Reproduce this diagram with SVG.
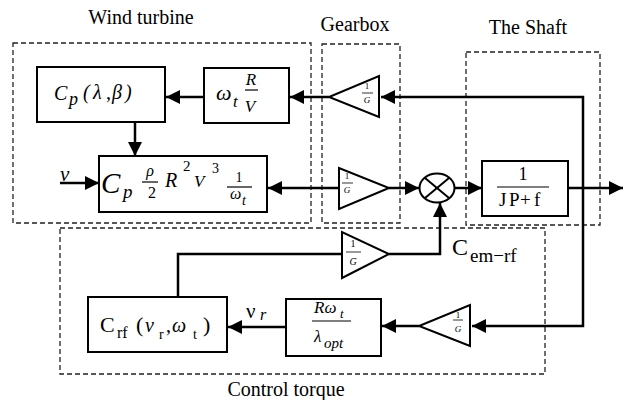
<svg xmlns="http://www.w3.org/2000/svg" width="624" height="400" viewBox="0 0 624 400">
<defs>
<marker id="ah" viewBox="0 0 14 14" refX="14" refY="7" markerWidth="14" markerHeight="14" markerUnits="userSpaceOnUse" orient="auto">
<path d="M0,0 L14,7 L0,14 z" fill="#000"/>
</marker>
</defs>
<rect width="624" height="400" fill="#fff"/>

<g id="groups">
<g fill="none" stroke="#222" stroke-width="1.3" stroke-dasharray="5,3">
<rect x="13" y="43" width="298" height="180"/>
<rect x="322" y="44" width="78" height="179"/>
<rect x="466" y="52" width="134" height="173"/>
<rect x="60" y="228" width="485" height="146"/>
</g>
<text font-family="Liberation Serif" x="141" y="24" font-size="20" text-anchor="middle">Wind turbine</text>
<text font-family="Liberation Serif" x="355" y="31" font-size="20" text-anchor="middle">Gearbox</text>
<text font-family="Liberation Serif" x="528" y="34" font-size="20" text-anchor="middle">The Shaft</text>
<text font-family="Liberation Serif" x="286" y="396" font-size="20" text-anchor="middle">Control torque</text>
</g>

<g id="connectors" fill="none" stroke="#000" stroke-width="2.5">
<path d="M583,188 V97 H381" marker-end="url(#ah)"/>
<path d="M583,188 V326 H472" marker-end="url(#ah)"/>
<path d="M329,97 H290" marker-end="url(#ah)"/>
<path d="M204,97 H166" marker-end="url(#ah)"/>
<path d="M135,122 V156" marker-end="url(#ah)"/>
<path d="M60,183 H99" marker-end="url(#ah)"/>
<path d="M339,188 H268" marker-end="url(#ah)"/>
<path d="M389,188 H419" marker-end="url(#ah)"/>
<path d="M455,188 H482" marker-end="url(#ah)"/>
<path d="M568,188 H623" marker-end="url(#ah)"/>
<path d="M178,297 V254 H342"/>
<path d="M389,254 H440 V203" marker-end="url(#ah)"/>
<path d="M419,326 H382" marker-end="url(#ah)"/>
<path d="M286,327 H228" marker-end="url(#ah)"/>
</g>
<g id="signal-labels">
<text font-family="Liberation Serif" font-style="italic" x="60" y="181" font-size="21">ν</text>
<text font-family="Liberation Serif" x="246" y="318" font-size="21">ν<tspan font-style="italic" font-size="16" x="260" y="320">r</tspan></text>
<text font-family="Liberation Serif" x="452" y="255" font-size="24">C<tspan font-size="19" x="470" y="262">em−rf</tspan></text>
</g>

<g id="cp">
<rect x="37" y="67" width="128" height="55" fill="#fff" stroke="#000" stroke-width="2"/>
<text font-family="Liberation Serif" font-style="italic" x="54" y="100" font-size="20">C<tspan font-size="18" x="69" y="105">p</tspan></text>
<text font-family="Liberation Serif" font-style="italic" x="83 93 106 112 125" y="99" font-size="20">(λ,β)</text>
</g>

<g id="lambda">
<rect x="204" y="68" width="85" height="55" fill="#fff" stroke="#000" stroke-width="2"/>
<text font-family="Liberation Serif" font-style="italic" x="216" y="100" font-size="22">ω<tspan font-size="17" x="233" y="107">t</tspan></text>
<text font-family="Liberation Serif" font-style="italic" x="251" y="85" font-size="17" text-anchor="middle">R</text>
<line x1="245" y1="90" x2="258" y2="90" stroke="#000" stroke-width="1.2"/>
<text font-family="Liberation Serif" font-style="italic" x="250" y="112" font-size="17" text-anchor="middle">V</text>
</g>

<g id="torque">
<rect x="99" y="156" width="168" height="56" fill="#fff" stroke="#000" stroke-width="2"/>
<text font-family="Liberation Serif" font-style="italic" x="101" y="193" font-size="29">C</text>
<text font-family="Liberation Serif" font-style="italic" x="123" y="198" font-size="19">p</text>
<text font-family="Liberation Serif" font-style="italic" x="150" y="176" font-size="16" text-anchor="middle">ρ</text>
<line x1="142" y1="182" x2="158" y2="182" stroke="#000" stroke-width="1.2"/>
<text font-family="Liberation Serif" x="152" y="198" font-size="16" text-anchor="middle">2</text>
<text font-family="Liberation Serif" font-style="italic" x="165" y="187" font-size="20">R</text>
<text font-family="Liberation Serif" x="183" y="171" font-size="15">2</text>
<text font-family="Liberation Serif" font-style="italic" x="194" y="187" font-size="17">V</text>
<text font-family="Liberation Serif" x="212" y="173" font-size="14">3</text>
<text font-family="Liberation Serif" x="239" y="182" font-size="14" text-anchor="middle">1</text>
<line x1="227" y1="187" x2="252" y2="187" stroke="#000" stroke-width="1.2"/>
<text font-family="Liberation Serif" font-style="italic" x="230" y="199" font-size="16">ω<tspan font-size="14" x="242" y="205">t</tspan></text>
</g>

<g id="gain1">
<polygon points="379,76 379,117 329,97" fill="#fff" stroke="#000" stroke-width="2"/>
<text font-family="Liberation Serif" x="367" y="89" font-size="9" text-anchor="middle">1</text>
<line x1="362" y1="93" x2="373" y2="93" stroke="#000" stroke-width="0.8"/>
<text font-family="Liberation Serif" font-style="italic" x="367" y="103" font-size="9" text-anchor="middle">G</text>
</g>

<g id="gain2">
<polygon points="339,168 339,209 389,188" fill="#fff" stroke="#000" stroke-width="2"/>
<text font-family="Liberation Serif" x="347" y="179" font-size="9" text-anchor="middle">1</text>
<line x1="342" y1="183" x2="353" y2="183" stroke="#000" stroke-width="0.8"/>
<text font-family="Liberation Serif" font-style="italic" x="347" y="193" font-size="9" text-anchor="middle">G</text>
</g>

<g id="sum">
<ellipse cx="437" cy="188" rx="17.5" ry="14.5" fill="#fff" stroke="#000" stroke-width="2"/>
<line x1="425" y1="178" x2="449" y2="198" stroke="#000" stroke-width="2"/>
<line x1="425" y1="198" x2="449" y2="178" stroke="#000" stroke-width="2"/>
</g>

<g id="shaft">
<rect x="482" y="161" width="86" height="55" fill="#fff" stroke="#000" stroke-width="2"/>
<text font-family="Liberation Serif" x="523" y="180" font-size="18" text-anchor="middle">1</text>
<line x1="497" y1="187" x2="549" y2="187" stroke="#000" stroke-width="1.2"/>
<text font-family="Liberation Serif" x="499 506 509 520 534" y="206" font-size="19">J P+f</text>
</g>

<g id="gain3">
<polygon points="342,232 342,278 389,254" fill="#fff" stroke="#000" stroke-width="2"/>
<text font-family="Liberation Serif" x="353" y="247" font-size="10" text-anchor="middle">1</text>
<line x1="346" y1="252" x2="361" y2="252" stroke="#000" stroke-width="0.8"/>
<text font-family="Liberation Serif" font-style="italic" x="353" y="265" font-size="10" text-anchor="middle">G</text>
</g>

<g id="gain4">
<polygon points="470,305 470,346 419,326" fill="#fff" stroke="#000" stroke-width="2"/>
<text font-family="Liberation Serif" x="458" y="318" font-size="9" text-anchor="middle">1</text>
<line x1="453" y1="320" x2="463" y2="320" stroke="#000" stroke-width="0.8"/>
<text font-family="Liberation Serif" font-style="italic" x="458" y="332" font-size="9" text-anchor="middle">G</text>
</g>

<g id="ref">
<rect x="286" y="299" width="95" height="57" fill="#fff" stroke="#000" stroke-width="2"/>
<text font-family="Liberation Serif" font-style="italic" x="314" y="313" font-size="17">Rω<tspan font-size="13" x="340" y="318">t</tspan></text>
<line x1="312" y1="321" x2="351" y2="321" stroke="#000" stroke-width="1.2"/>
<text font-family="Liberation Serif" font-style="italic" x="314" y="342" font-size="17">λ<tspan font-size="15" x="324" y="348">opt</tspan></text>
</g>

<g id="crf">
<rect x="88" y="297" width="139" height="55" fill="#fff" stroke="#000" stroke-width="2"/>
<text font-family="Liberation Serif" x="100" y="332" font-size="22">C</text>
<text font-family="Liberation Serif" x="117" y="338" font-size="16">rf</text>
<text font-family="Liberation Serif" x="136" y="332" font-size="22">(</text>
<text font-family="Liberation Serif" font-style="italic" x="145" y="332" font-size="20">ν</text>
<text font-family="Liberation Serif" x="159" y="339" font-size="14">r</text>
<text font-family="Liberation Serif" x="166" y="332" font-size="20">,</text>
<text font-family="Liberation Serif" font-style="italic" x="172" y="332" font-size="20">ω</text>
<text font-family="Liberation Serif" x="193" y="339" font-size="14">t</text>
<text font-family="Liberation Serif" x="203" y="332" font-size="22">)</text>
</g>
</svg>
